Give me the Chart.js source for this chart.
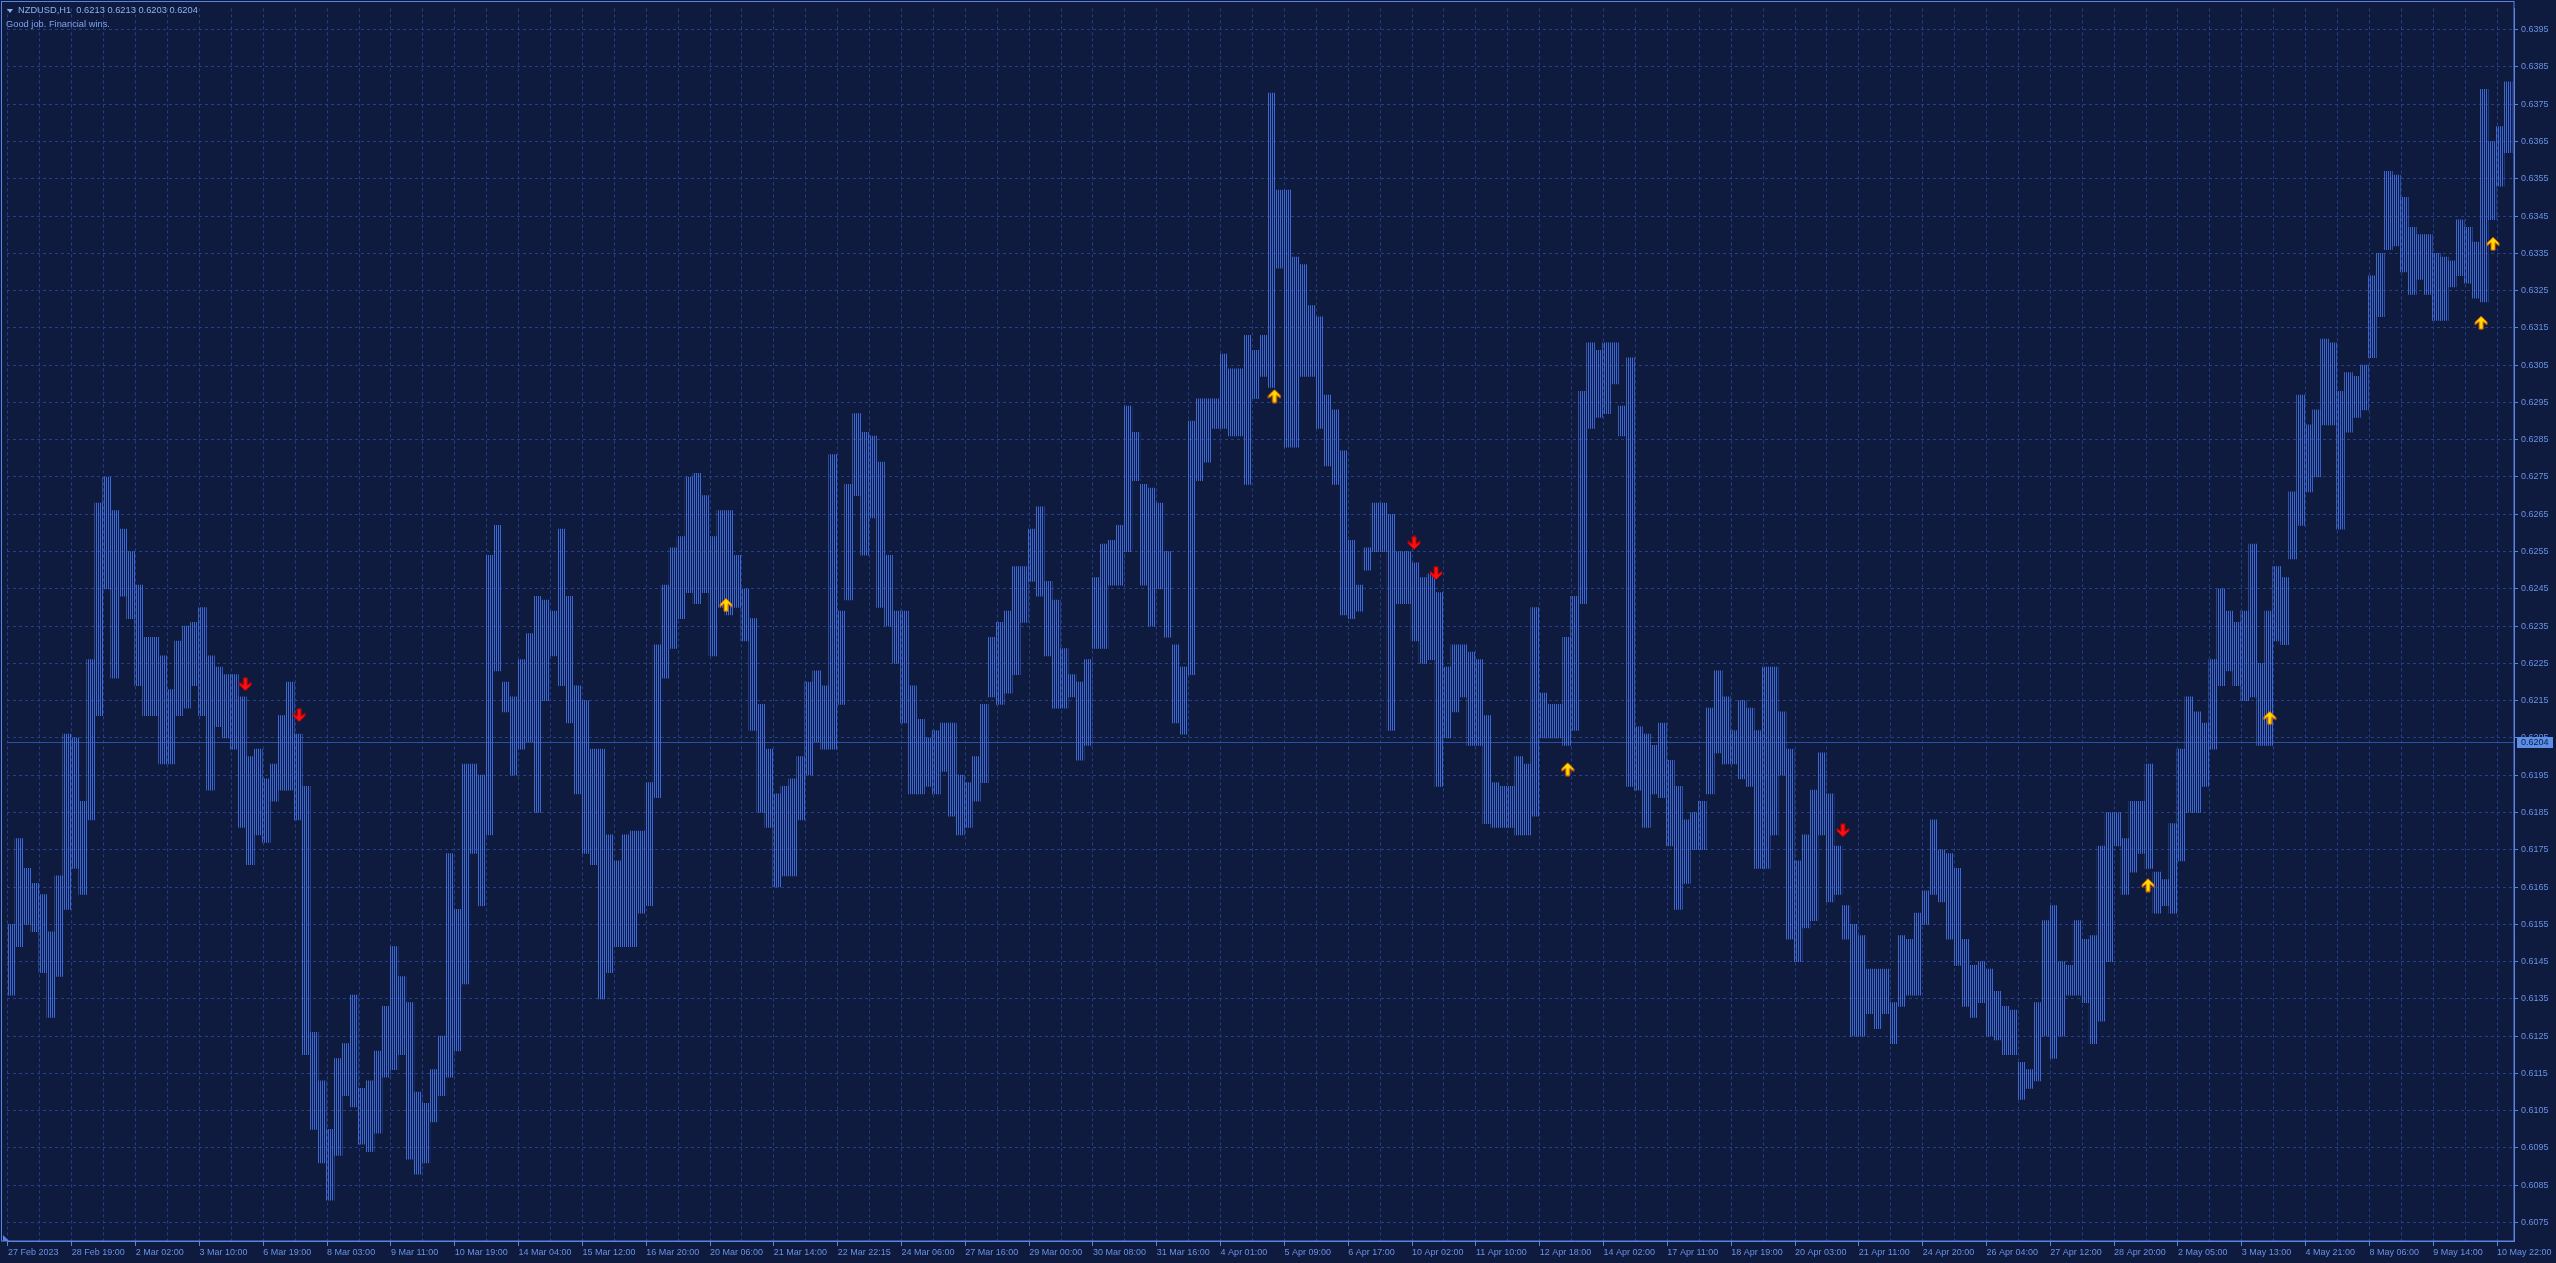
<!DOCTYPE html>
<html><head><meta charset="utf-8">
<style>
html,body{margin:0;padding:0;background:#0e1b3e;overflow:hidden}
#wrap{position:relative;width:2556px;height:1263px}
#c{position:absolute;left:0;top:0}
.t{position:absolute;font-family:'Liberation Sans',Arial,sans-serif;font-size:9.3px;white-space:pre;line-height:1}
.tri{position:absolute;left:7px;top:9px;width:0;height:0;border-left:3px solid transparent;border-right:3px solid transparent;border-top:4px solid #8fb1f3}
</style>
<script src="https://cdn.jsdelivr.net/npm/chart.js@4.4.0/dist/chart.umd.min.js"></script>
</head><body>
<div id="wrap">
<canvas id="c" width="2556" height="1263"></canvas>
<div class="tri"></div>
<div class="t" style="left:18px;top:6px;color:#8fb1f3">NZDUSD,H1  0.6213 0.6213 0.6203 0.6204</div>
<div class="t" style="left:6px;top:20px;color:#7fa3ee">Good job. Financial wins.</div>
</div>
<script>
const xTickLabels = ['27 Feb 2023','28 Feb 19:00','2 Mar 02:00','3 Mar 10:00','6 Mar 19:00','8 Mar 03:00','9 Mar 11:00','10 Mar 19:00','14 Mar 04:00','15 Mar 12:00','16 Mar 20:00','20 Mar 06:00','21 Mar 14:00','22 Mar 22:15','24 Mar 06:00','27 Mar 16:00','29 Mar 00:00','30 Mar 08:00','31 Mar 16:00','4 Apr 01:00','5 Apr 09:00','6 Apr 17:00','10 Apr 02:00','11 Apr 10:00','12 Apr 18:00','14 Apr 02:00','17 Apr 11:00','18 Apr 19:00','20 Apr 03:00','21 Apr 11:00','24 Apr 20:00','26 Apr 04:00','27 Apr 12:00','28 Apr 20:00','2 May 05:00','3 May 13:00','4 May 21:00','8 May 06:00','9 May 14:00','10 May 22:00'];
const yTickLabels = ['0.6075','0.6085','0.6095','0.6105','0.6115','0.6125','0.6135','0.6145','0.6155','0.6165','0.6175','0.6185','0.6195','0.6205','0.6215','0.6225','0.6235','0.6245','0.6255','0.6265','0.6275','0.6285','0.6295','0.6305','0.6315','0.6325','0.6335','0.6345','0.6355','0.6365','0.6375','0.6385','0.6395'];

// high of each group of 4 hourly bars
const groupHigh = [
0.6155,0.6178,0.6170,0.6166,0.6163,0.6153,0.6168,0.6206,0.6205,0.6188,
0.6226,0.6268,0.6275,0.6266,0.6261,0.6255,0.6246,0.6232,0.6232,0.6227,
0.6218,0.6231,0.6235,0.6236,0.6240,0.6227,0.6224,0.6222,0.6222,0.6216,
0.6200,0.6202,0.6194,0.6198,0.6211,0.6220,0.6206,0.6192,0.6126,0.6113,
0.6100,0.6119,0.6123,0.6136,0.6111,0.6113,0.6121,0.6133,0.6149,0.6141,
0.6134,0.6110,0.6107,0.6116,0.6125,0.6174,0.6159,0.6198,0.6198,0.6195,
0.6254,0.6262,0.6220,0.6216,0.6226,0.6233,0.6243,0.6242,0.6239,0.6261,
0.6243,0.6219,0.6215,0.6202,0.6202,0.6179,0.6172,0.6179,0.6180,0.6180,
0.6193,0.6230,0.6246,0.6256,0.6259,0.6275,0.6276,0.6270,0.6259,0.6266,
0.6266,0.6254,0.6245,0.6237,0.6214,0.6202,0.6190,0.6192,0.6194,0.6200,
0.6220,0.6223,0.6219,0.6281,0.6239,0.6273,0.6292,0.6287,0.6286,0.6279,
0.6254,0.6239,0.6239,0.6219,0.6210,0.6205,0.6207,0.6209,0.6209,0.6195,
0.6193,0.6200,0.6214,0.6232,0.6236,0.6239,0.6251,0.6251,0.6261,0.6267,
0.6247,0.6242,0.6229,0.6222,0.6220,0.6226,0.6248,0.6257,0.6258,0.6262,
0.6294,0.6287,0.6273,0.6272,0.6268,0.6255,0.6230,0.6224,0.6290,0.6296,
0.6296,0.6296,0.6308,0.6304,0.6304,0.6313,0.6309,0.6313,0.6378,0.6352,
0.6352,0.6334,0.6332,0.6321,0.6318,0.6297,0.6293,0.6282,0.6258,0.6246,
0.6256,0.6268,0.6268,0.6265,0.6255,0.6255,0.6252,0.6248,0.6249,0.6244,
0.6224,0.6230,0.6230,0.6228,0.6226,0.6211,0.6193,0.6192,0.6192,0.6200,
0.6198,0.6240,0.6217,0.6214,0.6214,0.6232,0.6243,0.6298,0.6311,0.6309,
0.6311,0.6311,0.6294,0.6307,0.6208,0.6206,0.6203,0.6209,0.6199,0.6192,
0.6183,0.6185,0.6188,0.6213,0.6223,0.6216,0.6207,0.6215,0.6213,0.6207,
0.6224,0.6224,0.6212,0.6202,0.6172,0.6179,0.6191,0.6201,0.6190,0.6176,
0.6160,0.6155,0.6152,0.6143,0.6143,0.6143,0.6134,0.6152,0.6151,0.6158,
0.6164,0.6183,0.6175,0.6174,0.6170,0.6151,0.6144,0.6145,0.6143,0.6137,
0.6133,0.6132,0.6118,0.6116,0.6134,0.6156,0.6160,0.6145,0.6144,0.6156,
0.6151,0.6152,0.6176,0.6185,0.6185,0.6178,0.6188,0.6188,0.6198,0.6169,
0.6167,0.6182,0.6202,0.6216,0.6212,0.6209,0.6226,0.6245,0.6239,0.6236,
0.6239,0.6257,0.6225,0.6239,0.6251,0.6248,0.6271,0.6297,0.6289,0.6293,
0.6312,0.6311,0.6298,0.6303,0.6302,0.6305,0.6329,0.6335,0.6357,0.6356,
0.6350,0.6342,0.6340,0.6340,0.6335,0.6334,0.6333,0.6344,0.6342,0.6338,
0.6379,0.6365,0.6369,0.6381];

// low of each group of 4 hourly bars
const groupLow = [
0.6136,0.6149,0.6155,0.6153,0.6142,0.6130,0.6141,0.6159,0.6170,0.6163,
0.6183,0.6211,0.6245,0.6221,0.6243,0.6237,0.6219,0.6211,0.6211,0.6198,
0.6198,0.6211,0.6213,0.6219,0.6211,0.6191,0.6208,0.6205,0.6202,0.6181,
0.6171,0.6179,0.6177,0.6188,0.6191,0.6191,0.6183,0.6120,0.6100,0.6091,
0.6081,0.6093,0.6109,0.6106,0.6096,0.6094,0.6099,0.6114,0.6116,0.6120,
0.6092,0.6088,0.6091,0.6102,0.6109,0.6114,0.6121,0.6139,0.6174,0.6160,
0.6179,0.6223,0.6212,0.6195,0.6202,0.6204,0.6185,0.6215,0.6227,0.6219,
0.6209,0.6190,0.6174,0.6171,0.6135,0.6142,0.6149,0.6149,0.6149,0.6158,
0.6160,0.6189,0.6221,0.6229,0.6237,0.6244,0.6241,0.6244,0.6227,0.6240,
0.6238,0.6240,0.6231,0.6207,0.6185,0.6181,0.6165,0.6168,0.6168,0.6183,
0.6195,0.6204,0.6202,0.6202,0.6214,0.6242,0.6270,0.6254,0.6264,0.6240,
0.6235,0.6225,0.6209,0.6190,0.6190,0.6192,0.6190,0.6196,0.6184,0.6179,
0.6181,0.6188,0.6193,0.6216,0.6214,0.6217,0.6222,0.6236,0.6247,0.6243,
0.6227,0.6213,0.6213,0.6216,0.6199,0.6203,0.6229,0.6229,0.6246,0.6246,
0.6255,0.6274,0.6246,0.6235,0.6245,0.6232,0.6209,0.6206,0.6222,0.6274,
0.6279,0.6288,0.6288,0.6286,0.6286,0.6273,0.6296,0.6302,0.6299,0.6331,
0.6283,0.6283,0.6302,0.6302,0.6288,0.6278,0.6273,0.6238,0.6237,0.6239,
0.6250,0.6255,0.6255,0.6207,0.6241,0.6241,0.6231,0.6225,0.6226,0.6192,
0.6205,0.6212,0.6216,0.6203,0.6203,0.6182,0.6181,0.6181,0.6181,0.6179,
0.6179,0.6184,0.6205,0.6205,0.6205,0.6203,0.6207,0.6241,0.6288,0.6291,
0.6292,0.6300,0.6286,0.6192,0.6191,0.6181,0.6190,0.6189,0.6176,0.6159,
0.6166,0.6175,0.6175,0.6190,0.6201,0.6198,0.6198,0.6194,0.6192,0.6170,
0.6170,0.6179,0.6195,0.6151,0.6145,0.6154,0.6156,0.6179,0.6161,0.6163,
0.6151,0.6125,0.6125,0.6131,0.6127,0.6131,0.6123,0.6133,0.6136,0.6136,
0.6155,0.6163,0.6161,0.6151,0.6144,0.6133,0.6130,0.6134,0.6125,0.6124,
0.6120,0.6120,0.6108,0.6111,0.6113,0.6125,0.6119,0.6125,0.6136,0.6136,
0.6134,0.6123,0.6129,0.6145,0.6176,0.6163,0.6169,0.6174,0.6170,0.6158,
0.6160,0.6158,0.6172,0.6185,0.6185,0.6192,0.6202,0.6219,0.6223,0.6219,
0.6215,0.6216,0.6203,0.6203,0.6231,0.6230,0.6253,0.6262,0.6271,0.6275,
0.6289,0.6289,0.6261,0.6287,0.6291,0.6293,0.6307,0.6318,0.6336,0.6337,
0.6330,0.6324,0.6328,0.6324,0.6317,0.6317,0.6326,0.6329,0.6327,0.6323,
0.6322,0.6344,0.6353,0.6362];

const upArrowBars = [360, 635, 782, 1073, 1134, 1240, 1246];
const upArrowPrices = [0.62407, 0.62967, 0.61966, 0.61655, 0.62104, 0.63164, 0.63376];
const downArrowBars = [119, 146, 705, 716, 920];
const downArrowPrices = [0.62194, 0.62111, 0.62573, 0.62492, 0.61802];
const currentPrice = 0.6204;
const barsPerGroup = 4;
const totalBars = 1257;
const barsPerLabel = 32;
const barsPerGrid = 16;

const BG = '#0e1b3e', GRID = '#223f88', AXIS = '#5a84e0', LABEL = '#6a91e6', BAR = '#3d69d8';
const FONT = {family: "'Liberation Sans', Arial, sans-serif", size: 9};

const canvas = document.getElementById('c');
const ctx = canvas.getContext('2d');

const pc = document.createElement('canvas'); pc.width = 2; pc.height = 1;
const pg = pc.getContext('2d'); pg.fillStyle = BAR; pg.fillRect(0, 0, 1, 1);
const stripes = ctx.createPattern(pc, 'repeat');

function makeArrow(up, fill, stroke) {
  const c = document.createElement('canvas'); c.width = 14; c.height = 15;
  const g = c.getContext('2d');
  const pts = [[7,1],[13,7],[13,9.5],[9,6.5],[9,14],[5,14],[5,6.5],[1,9.5],[1,7]];
  g.beginPath();
  pts.forEach(([x, y], i) => { const yy = up ? y : 15 - y; if (i) g.lineTo(x, yy); else g.moveTo(x, yy); });
  g.closePath();
  g.fillStyle = fill; g.fill();
  g.strokeStyle = stroke; g.lineWidth = 1; g.stroke();
  return c;
}
const upImg = makeArrow(true, '#ffdd00', '#e06000');
const downImg = makeArrow(false, '#ff1010', '#b00000');

const barData = groupHigh.map((h, k) => ({x: k * barsPerGroup + (barsPerGroup - 1) / 2, y: [groupLow[k], h]}));
const upData = upArrowBars.map((b, i) => ({x: b, y: upArrowPrices[i]}));
const downData = downArrowBars.map((b, i) => ({x: b, y: downArrowPrices[i]}));

const decor = {
  id: 'decor',
  beforeDatasetsDraw(chart) {
    const a = chart.chartArea, y = Math.round(chart.scales.y.getPixelForValue(currentPrice)) + 0.5;
    const c = chart.ctx; c.save();
    c.strokeStyle = '#2b4fa6'; c.lineWidth = 1; c.setLineDash([]);
    c.beginPath(); c.moveTo(a.left, y); c.lineTo(a.right, y); c.stroke();
    c.restore();
  },
  afterDraw(chart) {
    const a = chart.chartArea, c = chart.ctx; c.save();
    c.strokeStyle = AXIS; c.lineWidth = 1; c.setLineDash([]);
    c.strokeRect(1.5, 1.5, Math.round(a.right) - 1.5, Math.round(a.bottom) - 1.5);
    // shift marker
    c.fillStyle = AXIS;
    c.beginPath(); c.moveTo(3, a.bottom - 6); c.lineTo(3, a.bottom); c.lineTo(9, a.bottom); c.closePath(); c.fill();
    // current price box
    const y = chart.scales.y.getPixelForValue(currentPrice);
    c.fillStyle = '#5b8fe8';
    c.fillRect(a.right + 3, Math.round(y) - 5, 36, 11);
    c.fillStyle = BG;
    c.font = "9px 'Liberation Sans', Arial, sans-serif";
    c.textBaseline = 'middle'; c.textAlign = 'left';
    c.fillText(currentPrice.toFixed(4), a.right + 7, y + 0.5);
    c.restore();
  }
};

new Chart(ctx, {
  data: {
    datasets: [
      {type: 'scatter', data: upData, pointStyle: upImg, pointRadius: 6, order: 0},
      {type: 'scatter', data: downData, pointStyle: downImg, pointRadius: 6, order: 0},
      {type: 'bar', data: barData, backgroundColor: stripes, borderWidth: 0,
       barPercentage: 1, categoryPercentage: 1, order: 1}
    ]
  },
  options: {
    responsive: false,
    animation: false,
    events: [],
    layout: {padding: {left: 1, top: 1, right: 0, bottom: 0}},
    plugins: {legend: {display: false}, tooltip: {enabled: false}},
    scales: {
      x: {
        type: 'linear', position: 'bottom', min: -0.5, max: totalBars - 0.5, offset: false,
        grid: {color: GRID, offset: false, drawTicks: true, tickLength: 5, tickBorderDash: [],
               tickColor: (c) => (c.tick && c.tick.value % barsPerLabel === 0) ? AXIS : 'rgba(0,0,0,0)'},
        border: {display: true, color: AXIS, dash: [3, 3]},
        ticks: {autoSkip: false, maxRotation: 0, minRotation: 0, align: 'start', padding: 1, color: LABEL, font: FONT,
                callback: (v) => (v % barsPerLabel === 0) ? (xTickLabels[v / barsPerLabel] || '') : ''},
        afterBuildTicks: (s) => {
          const t = [];
          for (let u = 0; u < totalBars; u += barsPerGrid) t.push({value: u});
          s.ticks = t;
        },
        afterFit: (s) => { s.height = 22; }
      },
      y: {
        type: 'linear', position: 'right', min: 0.607004, max: 0.640071,
        grid: {color: GRID, drawTicks: true, tickLength: 4, tickColor: AXIS, tickBorderDash: []},
        border: {display: true, color: AXIS, dash: [3, 3]},
        ticks: {color: LABEL, font: FONT, padding: 3, callback: (v) => v.toFixed(4)},
        afterBuildTicks: (s) => { s.ticks = yTickLabels.map(l => ({value: parseFloat(l)})); },
        afterFit: (s) => { s.width = 42; }
      }
    }
  },
  plugins: [decor]
});
</script>
</body></html>
